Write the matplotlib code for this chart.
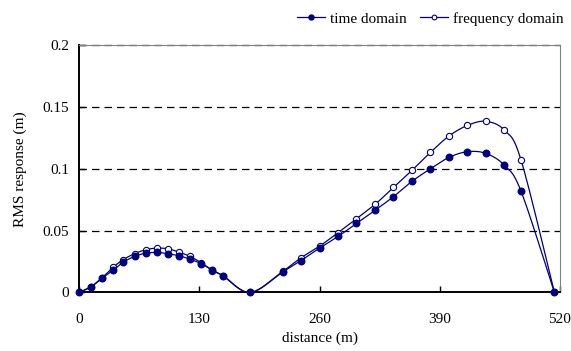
import numpy as np
import matplotlib.pyplot as plt
from matplotlib.lines import Line2D

# distance of the output points along the bridge (m)
distance = [0, 13, 25, 37, 48, 60, 72, 84, 96, 108, 120, 132, 144, 156, 185,
            220, 240, 260, 280, 300, 320, 340, 360, 380, 400, 420, 440, 460, 478, 514]

# RMS response (m)
time_domain = [0, 0.0046, 0.0116, 0.0181, 0.0246, 0.0292, 0.0318, 0.0324, 0.0314,
               0.0297, 0.0270, 0.0233, 0.0184, 0.0132, 0,
               0.0165, 0.0259, 0.0359, 0.0454, 0.0559, 0.0665, 0.0776, 0.0900,
               0.1002, 0.1094, 0.1140, 0.1126, 0.1029, 0.0818, 0]
freq_domain = [0, 0.0048, 0.0120, 0.0205, 0.0267, 0.0314, 0.0346, 0.0359, 0.0354,
               0.0327, 0.0292, 0.0241, 0.0178, 0.0135, 0,
               0.0170, 0.0281, 0.0375, 0.0484, 0.0597, 0.0713, 0.0851, 0.0989,
               0.1135, 0.1267, 0.1353, 0.1386, 0.1313, 0.1070, 0]

x_ticks = [0, 130, 260, 390, 520]
y_ticks = [0, 0.05, 0.1, 0.15, 0.2]

color = "#000080"
plt.rcParams["font.family"] = ["Liberation Serif", "DejaVu Serif"]


def smooth_line(x, y, n=24):
    """Excel-like smoothed line: cubic Bezier segments through the points."""
    x = np.asarray(x, float)
    y = np.asarray(y, float)
    px = np.concatenate([[x[0]], x, [x[-1]]])
    py = np.concatenate([[y[0]], y, [y[-1]]])
    xs, ys = [], []
    t = np.linspace(0, 1, n)
    for i in range(1, len(px) - 2):
        p0 = np.array([px[i], py[i]])
        p3 = np.array([px[i + 1], py[i + 1]])
        p1 = p0 + (p3 - np.array([px[i - 1], py[i - 1]])) / 6
        p2 = p3 - (np.array([px[i + 2], py[i + 2]]) - p0) / 6
        seg = ((1 - t) ** 3)[:, None] * p0 + (3 * (1 - t) ** 2 * t)[:, None] * p1 \
            + (3 * (1 - t) * t ** 2)[:, None] * p2 + (t ** 3)[:, None] * p3
        xs.extend(seg[:, 0])
        ys.extend(seg[:, 1])
    return np.array(xs), np.array(ys)


fig = plt.figure(figsize=(5.71, 3.51), dpi=100)
ax = fig.add_axes([0.1384, 0.1667, 0.8423, 0.7037])

sx, sy = smooth_line(distance, freq_domain)
ax.plot(sx, sy, color=color, lw=0.9, zorder=3)
ax.plot(distance, freq_domain, "o", color=color, mfc="white", ms=4.5, mew=0.8, zorder=4)

sx, sy = smooth_line(distance, time_domain)
ax.plot(sx, sy, color=color, lw=0.9, zorder=5)
ax.plot(distance, time_domain, "o", color=color, ms=4.7, zorder=6, clip_on=False)

ax.set_xlim(0, 520)
ax.set_ylim(0, 0.2)
ax.set_xticks(x_ticks)
ax.set_yticks(y_ticks)
ax.set_yticklabels(["%g" % v for v in y_ticks])
ax.tick_params(direction="in", length=4, width=1, labelsize=11, pad=7)
ax.tick_params(axis="x", pad=15)

for v in y_ticks[1:]:
    ax.axhline(v, color="black", lw=0.9, ls=(0, (6, 4)), zorder=2, clip_on=False)

for side in ["top", "right"]:
    ax.spines[side].set_color("#808080")
for side in ["left", "bottom"]:
    ax.spines[side].set_linewidth(1.4)

ax.set_xlabel("distance (m)", fontsize=11, labelpad=4)
ax.set_ylabel("RMS response (m)", fontsize=11, labelpad=11)

handles = [
    Line2D([], [], color=color, lw=0.9, marker="o", ms=3.6),
    Line2D([], [], color=color, lw=0.9, marker="o", mfc="white", ms=3.4, mew=0.8),
]
fig.legend(handles, ["time domain", "frequency domain"], ncol=2, frameon=False,
           loc="upper right", bbox_to_anchor=(1.011, 1.005), fontsize=11,
           handlelength=1.8, handletextpad=0.35, columnspacing=0.85)

fig.savefig("out.png", dpi=100)
